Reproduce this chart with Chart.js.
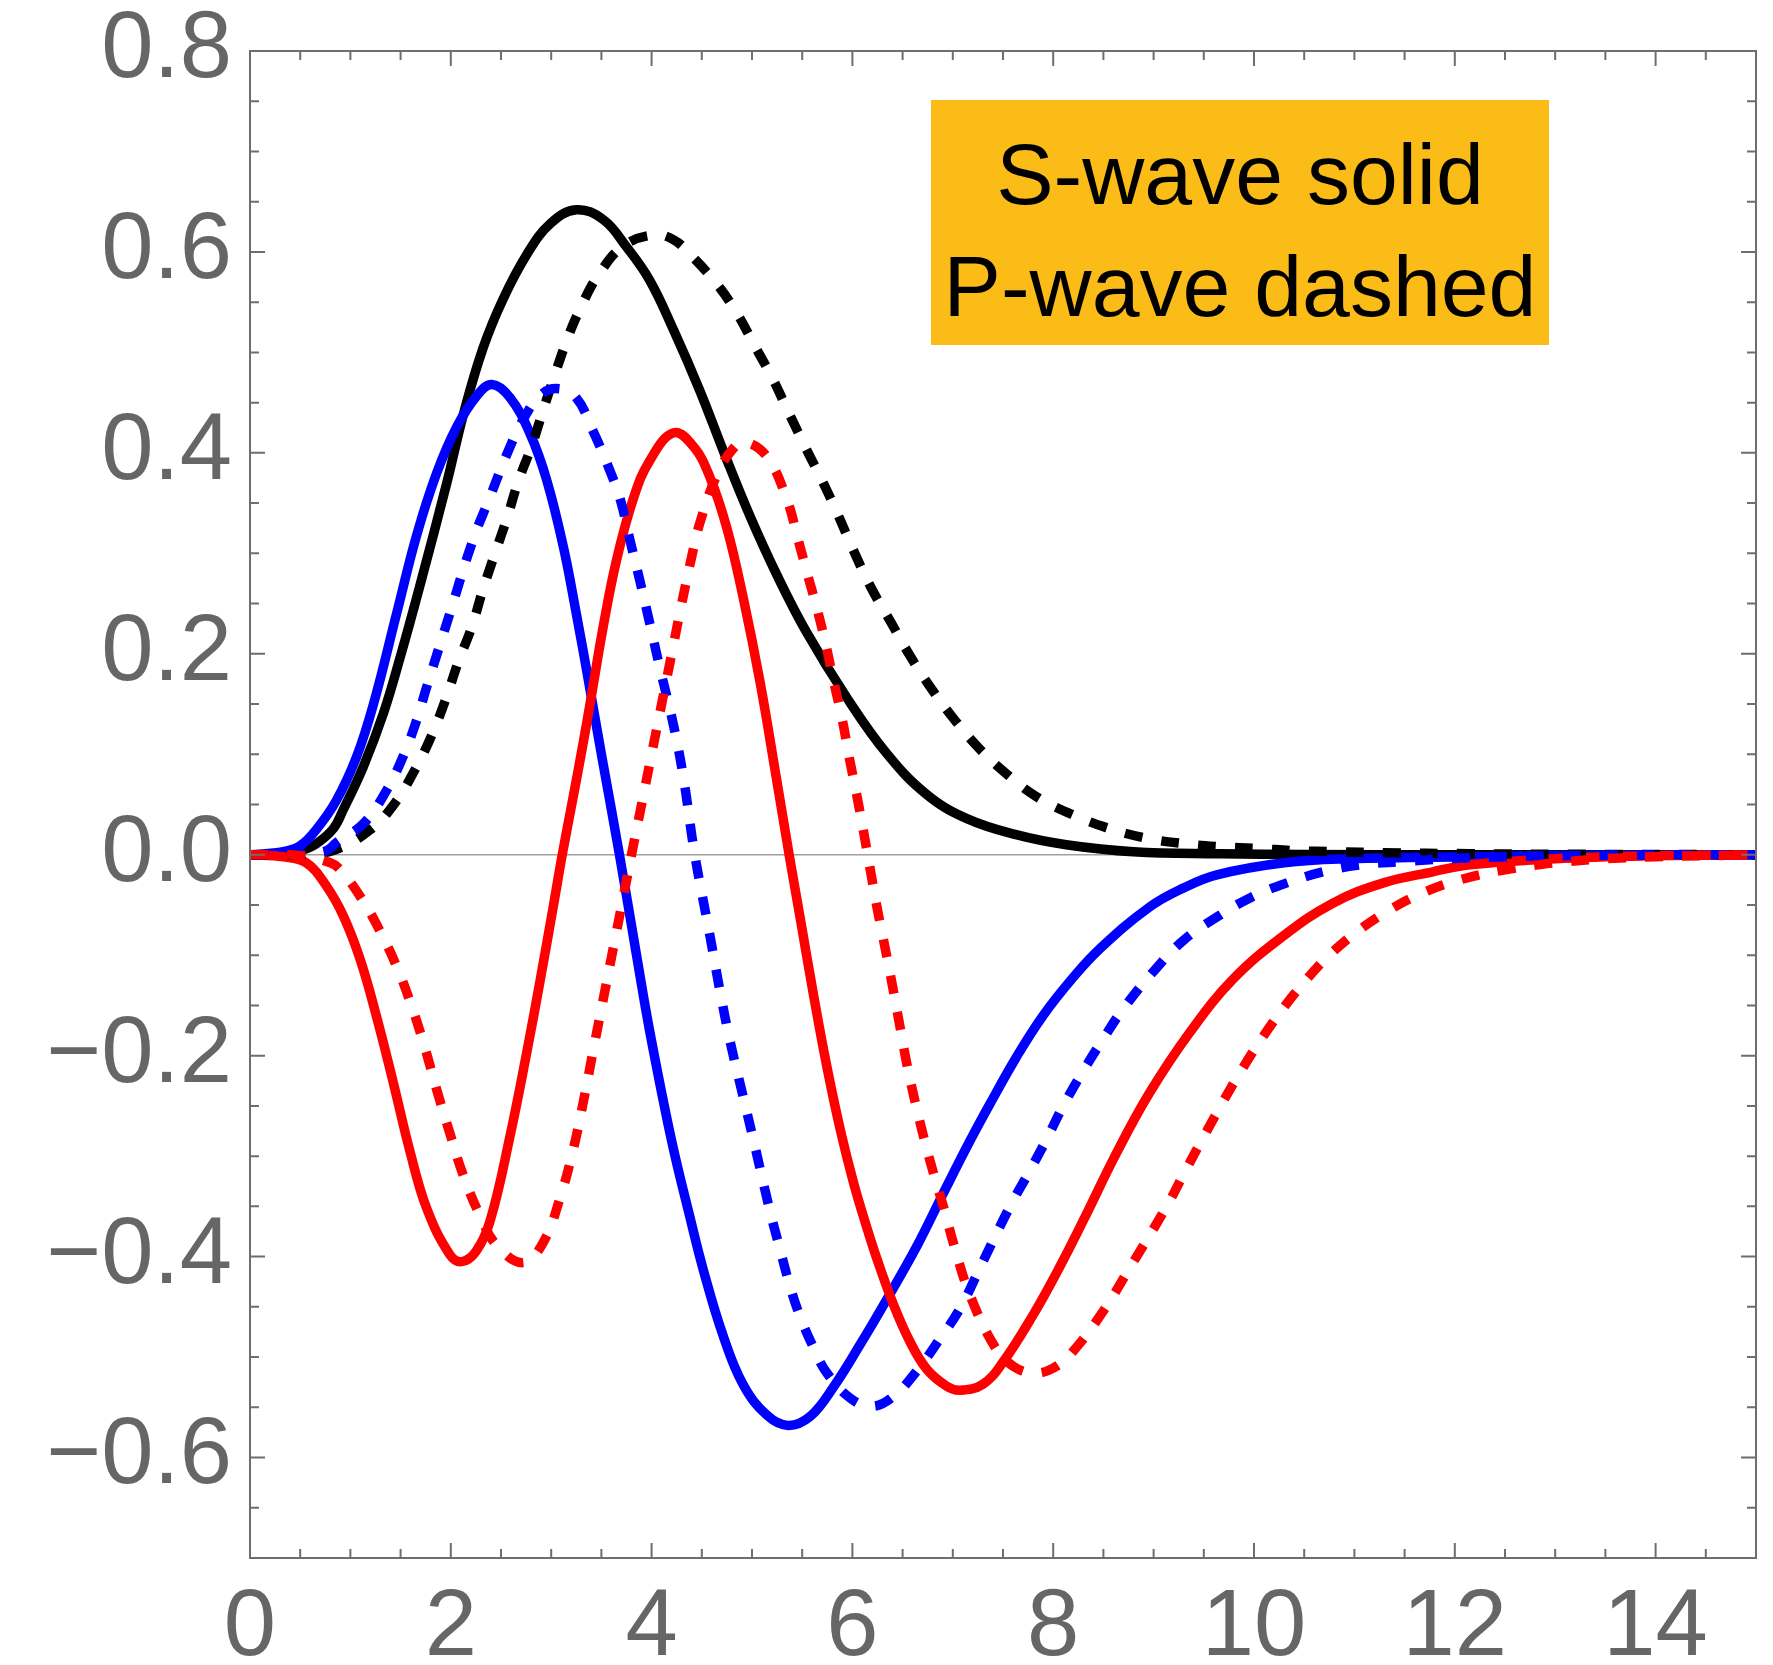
<!DOCTYPE html>
<html><head><meta charset="utf-8">
<script src="https://cdn.jsdelivr.net/npm/chart.js@4/dist/chart.umd.min.js"></script>
<style>html,body{margin:0;padding:0;background:#fff;}#wrap{position:relative;width:1773px;height:1665px;}</style>
</head><body><div id="wrap"><canvas id="c"></canvas></div>
<script>
// ---- tick labels ----
const xTickValues = [0, 2, 4, 6, 8, 10, 12, 14];
const xTickLabels = ['0', '2', '4', '6', '8', '10', '12', '14'];
const yTickValues = [0.8, 0.6, 0.4, 0.2, 0, -0.2, -0.4, -0.6];
const yTickLabels = ['0.8', '0.6', '0.4', '0.2', '0.0', '\u22120.2', '\u22120.4', '\u22120.6'];
const legendLines = ['S-wave solid', 'P-wave dashed'];

// ---- S-wave (solid) series ----
const sBlackX = [0, 0.3, 0.5, 0.66, 0.83, 0.93, 1.13, 1.33, 1.5, 1.69, 1.96, 2.13, 2.32, 2.52, 2.76, 2.99, 3.25, 3.52, 3.75, 3.98, 4.22, 4.48, 4.73, 4.98, 5.25, 5.54, 5.94, 6.34, 6.74, 7.14, 7.63, 8.13, 8.8, 9.66, 10.5, 12, 15];
const sBlackY = [0, 0.0005, 0.004, 0.011, 0.026, 0.045, 0.088, 0.141, 0.198, 0.267, 0.370, 0.440, 0.504, 0.553, 0.598, 0.628, 0.642, 0.632, 0.605, 0.572, 0.522, 0.462, 0.398, 0.337, 0.278, 0.222, 0.157, 0.101, 0.060, 0.036, 0.020, 0.010, 0.003, 0.001, 0.0003, 0, 0];

const sBlueX = [0, 0.33, 0.5, 0.66, 0.86, 1.06, 1.23, 1.46, 1.66, 1.86, 2.06, 2.26, 2.41, 2.59, 2.79, 2.955, 3.12, 3.25, 3.37, 3.5, 3.68, 3.85, 3.98, 4.2, 4.38, 4.52, 4.71, 4.91, 5.15, 5.36, 5.58, 5.81, 6.08, 6.34, 6.64, 6.9, 7.17, 7.37, 7.63, 7.9, 8.2, 8.46, 8.96, 9.3, 9.63, 10.3, 10.95, 12.15, 13.5, 15];
const sBlueY = [0, 0.003, 0.009, 0.025, 0.054, 0.097, 0.150, 0.240, 0.318, 0.380, 0.426, 0.457, 0.468, 0.455, 0.419, 0.373, 0.307, 0.240, 0.174, 0.100, 0.0, -0.100, -0.175, -0.285, -0.360, -0.415, -0.478, -0.527, -0.558, -0.568, -0.559, -0.530, -0.487, -0.443, -0.390, -0.338, -0.285, -0.248, -0.202, -0.160, -0.122, -0.094, -0.052, -0.033, -0.020, -0.008, -0.004, -0.002, -0.0005, 0];

const sRedX = [0, 0.33, 0.56, 0.76, 0.93, 1.10, 1.26, 1.43, 1.59, 1.76, 1.99, 2.11, 2.25, 2.39, 2.59, 2.76, 2.89, 3.02, 3.11, 3.22, 3.32, 3.39, 3.52, 3.65, 3.82, 3.98, 4.22, 4.42, 4.58, 4.75, 4.91, 5.08, 5.24, 5.37, 5.48, 5.61, 5.74, 5.88, 6.01, 6.14, 6.24, 6.41, 6.57, 6.74, 6.94, 7.07, 7.3, 7.5, 7.8, 8.05, 8.3, 8.63, 8.96, 9.36, 9.79, 10.29, 10.79, 11.29, 11.78, 12.15, 13, 14, 15];
const sRedY = [0, -0.002, -0.008, -0.031, -0.061, -0.105, -0.161, -0.228, -0.294, -0.352, -0.398, -0.405, -0.395, -0.365, -0.280, -0.195, -0.125, -0.052, 0.0, 0.058, 0.112, 0.152, 0.228, 0.293, 0.355, 0.392, 0.420, 0.406, 0.376, 0.325, 0.257, 0.172, 0.078, 0.0, -0.063, -0.138, -0.208, -0.274, -0.326, -0.370, -0.401, -0.448, -0.484, -0.512, -0.529, -0.533, -0.527, -0.505, -0.458, -0.413, -0.364, -0.297, -0.237, -0.177, -0.124, -0.081, -0.048, -0.028, -0.017, -0.010, -0.004, -0.001, 0];

// ---- P-wave (dashed) series ----
const pBlackX = [0, 0.5, 0.85, 1.2, 1.44, 1.64, 1.81, 1.95, 2.075, 2.21, 2.32, 2.44, 2.56, 2.67, 2.81, 2.915, 3.04, 3.17, 3.30, 3.47, 3.72, 4.03, 4.22, 4.38, 4.65, 4.85, 5.03, 5.21, 5.37, 5.54, 5.71, 5.84, 6.01, 6.18, 6.38, 6.58, 6.81, 7.02, 7.27, 7.54, 7.83, 8.19, 8.53, 8.9, 9.3, 9.65, 10.06, 10.42, 10.82, 11.29, 12.15, 13, 15];
const pBlackY = [0, 0.0003, 0.005, 0.025, 0.051, 0.084, 0.119, 0.155, 0.192, 0.227, 0.264, 0.300, 0.335, 0.371, 0.408, 0.441, 0.479, 0.516, 0.546, 0.577, 0.606, 0.617, 0.612, 0.598, 0.568, 0.539, 0.506, 0.473, 0.439, 0.404, 0.370, 0.342, 0.303, 0.267, 0.232, 0.197, 0.162, 0.134, 0.105, 0.080, 0.058, 0.040, 0.027, 0.017, 0.011, 0.008, 0.006, 0.004, 0.003, 0.002, 0.001, 0.0005, 0];

const pBlueX = [0, 0.5, 0.76, 0.86, 1.13, 1.36, 1.53, 1.66, 1.76, 1.99, 2.22, 2.39, 2.56, 2.72, 2.89, 3.05, 3.24, 3.42, 3.59, 3.69, 3.78, 3.88, 3.98, 4.08, 4.22, 4.32, 4.43, 4.58, 4.68, 4.78, 4.91, 5.01, 5.18, 5.28, 5.38, 5.48, 5.61, 5.74, 5.98, 6.2, 6.41, 6.64, 6.87, 7.07, 7.3, 7.57, 7.77, 7.93, 8.1, 8.3, 8.5, 8.7, 9.0, 9.3, 9.63, 9.96, 10.3, 10.69, 11.06, 11.45, 12.15, 13.5, 15];
const pBlueY = [0, 0.0005, 0.004, 0.012, 0.031, 0.064, 0.099, 0.134, 0.167, 0.240, 0.313, 0.356, 0.399, 0.433, 0.457, 0.464, 0.456, 0.421, 0.381, 0.353, 0.315, 0.274, 0.231, 0.187, 0.128, 0.075, 0.0, -0.080, -0.135, -0.185, -0.240, -0.282, -0.355, -0.393, -0.430, -0.460, -0.490, -0.515, -0.541, -0.549, -0.539, -0.514, -0.482, -0.452, -0.405, -0.350, -0.314, -0.284, -0.250, -0.215, -0.183, -0.153, -0.116, -0.085, -0.062, -0.043, -0.029, -0.017, -0.010, -0.007, -0.003, -0.0005, 0];

const pRedX = [0, 0.5, 0.8, 0.9, 1.1, 1.29, 1.46, 1.59, 1.73, 1.86, 1.99, 2.12, 2.29, 2.46, 2.72, 2.92, 3.09, 3.22, 3.32, 3.42, 3.52, 3.62, 3.72, 3.8, 3.9, 4.0, 4.1, 4.2, 4.3, 4.4, 4.48, 4.65, 4.81, 4.93, 5.15, 5.35, 5.45, 5.55, 5.65, 5.74, 5.81, 5.9, 5.97, 6.05, 6.12, 6.18, 6.25, 6.33, 6.40, 6.47, 6.54, 6.62, 6.71, 6.81, 6.92, 7.01, 7.17, 7.42, 7.6, 7.8, 8.0, 8.2, 8.5, 8.77, 9.13, 9.33, 9.53, 9.69, 9.89, 10.09, 10.32, 10.55, 10.75, 11.02, 11.35, 11.68, 12.05, 12.5, 13, 13.5, 14, 15];
const pRedY = [0, -0.001, -0.008, -0.015, -0.042, -0.075, -0.111, -0.145, -0.188, -0.234, -0.277, -0.318, -0.359, -0.389, -0.406, -0.386, -0.341, -0.293, -0.246, -0.194, -0.143, -0.092, -0.041, 0.0, 0.050, 0.100, 0.150, 0.200, 0.250, 0.297, 0.330, 0.378, 0.404, 0.411, 0.396, 0.353, 0.317, 0.280, 0.244, 0.207, 0.174, 0.134, 0.096, 0.056, 0.018, -0.016, -0.055, -0.095, -0.131, -0.169, -0.207, -0.244, -0.281, -0.318, -0.355, -0.388, -0.438, -0.490, -0.509, -0.516, -0.511, -0.494, -0.454, -0.410, -0.350, -0.312, -0.275, -0.246, -0.212, -0.181, -0.149, -0.121, -0.100, -0.077, -0.055, -0.038, -0.025, -0.015, -0.008, -0.004, -0.002, 0];

// ---- build ----
function pts(xs, ys) { return xs.map((x, i) => ({ x: x, y: ys[i] })); }
const LW = 9.5;
const DASH = [18, 19];
function ds(xs, ys, color, dashed) {
  return {
    data: pts(xs, ys), borderColor: color, borderWidth: LW, pointRadius: 0,
    fill: false, tension: 0.4, cubicInterpolationMode: 'default', borderDash: dashed ? DASH : [],
    borderCapStyle: 'butt', borderJoinStyle: 'round'
  };
}
// first dataset is drawn on top in Chart.js
const datasets = [
  ds(pRedX, pRedY, '#ff0000', true),
  ds(pBlueX, pBlueY, '#0000ff', true),
  ds(pBlackX, pBlackY, '#000000', true),
  ds(sRedX, sRedY, '#ff0000', false),
  ds(sBlueX, sBlueY, '#0000ff', false),
  ds(sBlackX, sBlackY, '#000000', false)
];

const FRAME = '#6e6e6e';
const framePlugin = {
  id: 'frame',
  afterDatasetsDraw(chart) {
    const ctx = chart.ctx, a = chart.chartArea;
    const xs = chart.scales.x, ys = chart.scales.y;
    ctx.save();
    ctx.strokeStyle = FRAME;
    ctx.lineWidth = 2;
    ctx.strokeRect(a.left, a.top, a.right - a.left, a.bottom - a.top);
    ctx.beginPath();
    for (let k = 1; k < 30; k++) {
      const px = xs.getPixelForValue(k * 0.5);
      const len = (k % 4 === 0) ? 15 : 9;
      ctx.moveTo(px, a.bottom); ctx.lineTo(px, a.bottom - len);
      ctx.moveTo(px, a.top); ctx.lineTo(px, a.top + len);
    }
    for (let k = -13; k < 16; k++) {
      const py = ys.getPixelForValue(k * 0.05);
      const len = (((k % 4) + 4) % 4 === 0) ? 15 : 9;
      ctx.moveTo(a.left, py); ctx.lineTo(a.left + len, py);
      ctx.moveTo(a.right, py); ctx.lineTo(a.right - len, py);
    }
    ctx.stroke();
    // legend box (annotation)
    const bx0 = a.left + 681, bx1 = a.left + 1299, by0 = a.top + 49, by1 = a.top + 294;
    ctx.fillStyle = '#FCBC18';
    ctx.fillRect(bx0, by0, bx1 - bx0, by1 - by0);
    ctx.fillStyle = '#000';
    ctx.font = '86px "Liberation Sans", Arial, sans-serif';
    ctx.textAlign = 'center';
    ctx.textBaseline = 'alphabetic';
    const cx = (bx0 + bx1) / 2;
    ctx.fillText(legendLines[0], cx, a.top + 153);
    ctx.fillText(legendLines[1], cx, a.top + 265);
    ctx.restore();
  }
};

const tickFont = { family: '"Liberation Sans", Arial, sans-serif', size: 94 };
new Chart(document.getElementById('c'), {
  type: 'line',
  data: { datasets: datasets },
  plugins: [framePlugin],
  options: {
    responsive: true, maintainAspectRatio: false, animation: false, devicePixelRatio: 1,
    layout: { padding: { top: 51, right: 17, left: 0, bottom: 0 } },
    plugins: { legend: { display: false }, tooltip: { enabled: false }, title: { display: false } },
    scales: {
      x: {
        type: 'linear', min: 0, max: 15,
        afterBuildTicks: s => { s.ticks = xTickValues.map(v => ({ value: v })); },
        afterFit: s => { s.height = 107; s.paddingLeft = 0; s.paddingRight = 0; },
        grid: { display: false, drawTicks: false },
        border: { display: false },
        ticks: {
          autoSkip: false, maxRotation: 0, minRotation: 0, padding: 15, color: '#666666', font: tickFont,
          callback: v => xTickLabels[xTickValues.indexOf(v)]
        }
      },
      y: {
        type: 'linear', min: -0.7, max: 0.8,
        afterBuildTicks: s => { s.ticks = yTickValues.map(v => ({ value: v })); },
        afterFit: s => { s.width = 250; s.paddingTop = 0; s.paddingBottom = 0; },
        grid: {
          drawTicks: false,
          color: c => (c.tick && Math.abs(c.tick.value) < 1e-9) ? '#a0a0a0' : 'rgba(0,0,0,0)',
          lineWidth: 1.5
        },
        border: { display: false },
        ticks: {
          autoSkip: false, padding: 18, color: '#666666', font: tickFont,
          callback: v => { const i = yTickValues.findIndex(t => Math.abs(t - v) < 1e-9); return i >= 0 ? yTickLabels[i] : ''; }
        }
      }
    }
  }
});
</script></body></html>
